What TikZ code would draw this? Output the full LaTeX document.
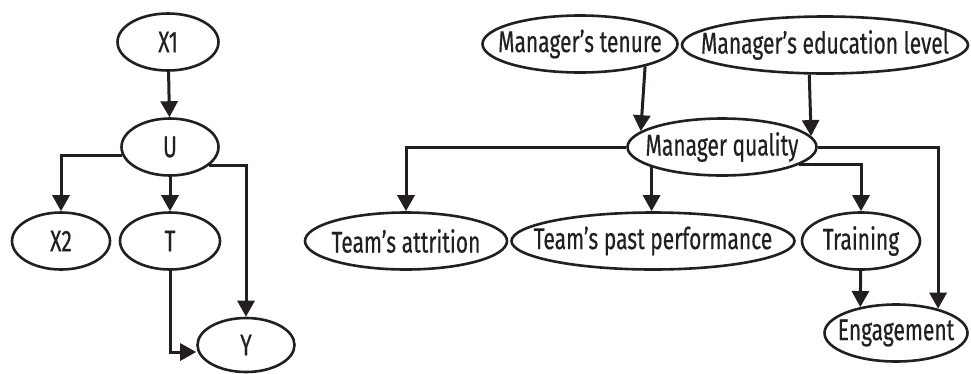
\documentclass[tikz,border=0pt]{standalone}
\usepackage{fontspec}
\setmainfont{Fira Sans}[FakeStretch=0.70, FakeBold=0.4]
\usepackage{tikz}
\usetikzlibrary{shapes.geometric,arrows.meta,positioning}
\definecolor{ink}{HTML}{231F20}

\begin{document}
\begin{tikzpicture}[x=1pt, y=-1pt,
    var/.style={ellipse, draw=ink, line width=2.6pt, inner xsep=-40pt, inner ysep=0pt,
                minimum height=57pt, text=ink, font=\fontsize{30pt}{36pt}\selectfont},
    arr/.style={-{Triangle[length=16pt,width=17pt]}, line width=3pt, ink}
]
    \useasboundingbox (0,0) rectangle (971,373);

    % left graph
    \node[var, minimum width=101pt] (x1) at (168,42) {X1};
    \node[var, minimum width=97pt]  (u)  at (170,147) {U};
    \node[var, minimum width=98pt]  (x2) at (61,241) {X2};
    \node[var, minimum width=100pt] (t)  at (170,241) {T};
    \node[var, minimum width=97pt, minimum height=54pt] (y) at (246,345) {Y};

    \draw[arr] (x1) -- (u);
    \draw[arr] (u.190) -| (x2);
    \draw[arr] (u) -- (t);
    \draw[arr] (u.335) -| (y);
    \draw[arr] (t) |- ([yshift=-7pt]y.west);

    % right graph
    \node[var, minimum width=195pt] (tenure)    at (580,44)  {Manager’s tenure};
    \node[var, minimum width=286pt] (edu)       at (825,45)  {Manager’s education level};
    \node[var, minimum width=189pt] (quality)   at (722,147) {Manager quality};
    \node[var, minimum width=202pt] (attrition) at (406,241) {Team’s attrition};
    \node[var, minimum width=283pt] (pastperf)  at (653,241) {Team’s past performance};
    \node[var, minimum width=118pt] (training)  at (861,241) {Training};
    \node[var, minimum width=143pt] (engage)    at (896,333) {Engagement};

    \draw[arr] (tenure.-19.6) -- (quality.169);
    \draw[arr] (edu.242) -- (quality.7);
    \draw[arr] (quality) -| (attrition);
    \draw[arr] (quality.196) -- (quality.196 |- pastperf.north);
    \draw[arr] (quality.-13.5) -| (training);
    \draw[arr] (quality.east) -| (engage.30.5);
    \draw[arr] (training) -- (engage.144.6);
\end{tikzpicture}
\end{document}
